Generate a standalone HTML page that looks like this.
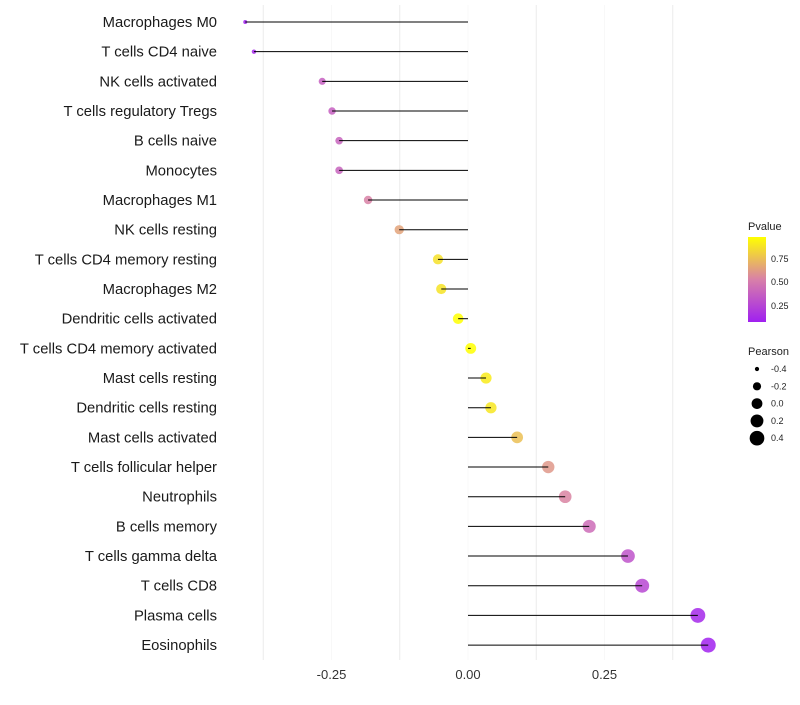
<!DOCTYPE html>
<html><head><meta charset="utf-8"><style>
body{margin:0;background:#fff;font-family:"Liberation Sans",sans-serif}
</style></head><body>
<svg id="chart" width="800" height="700" xmlns="http://www.w3.org/2000/svg">
<defs><linearGradient id="pg" x1="0" y1="1" x2="0" y2="0">
<stop offset="0" stop-color="#A020F0"/><stop offset="0.5" stop-color="#D880A8"/><stop offset="1" stop-color="#FFFF00"/></linearGradient></defs>
<g id="grid"></g>
<g id="points"></g>
<g id="marks"></g>
<g id="ylabels"></g>
<g id="xlabels"></g>
<g>
<text x="748" y="230" font-size="11" fill="#222">Pvalue</text>
<rect x="748" y="237" width="18" height="85" fill="url(#pg)"/>
<text x="771" y="262" font-size="9" fill="#222">0.75</text>
<text x="771" y="285" font-size="9" fill="#222">0.50</text>
<text x="771" y="309" font-size="9" fill="#222">0.25</text>
</g>
<g id="sizeleg">
<text x="748" y="355" font-size="11" fill="#222">Pearson</text>
</g>
</svg>
<script>
const categories=["Macrophages M0","T cells CD4 naive","NK cells activated","T cells regulatory  Tregs","B cells naive","Monocytes","Macrophages M1","NK cells resting","T cells CD4 memory resting","Macrophages M2","Dendritic cells activated","T cells CD4 memory activated","Mast cells resting","Dendritic cells resting","Mast cells activated","T cells follicular helper","Neutrophils","B cells memory","T cells gamma delta","T cells CD8","Plasma cells","Eosinophils"];
const pearson=[-0.408,-0.392,-0.267,-0.249,-0.236,-0.236,-0.183,-0.126,-0.055,-0.049,-0.018,0.005,0.033,0.042,0.090,0.147,0.178,0.222,0.293,0.319,0.421,0.440];
const pvalues=[0.06,0.10,0.36,0.36,0.38,0.38,0.52,0.64,0.86,0.87,0.97,0.98,0.90,0.88,0.74,0.60,0.53,0.42,0.30,0.25,0.10,0.07];
const xTicks=[-0.25,0,0.25];
const xTickLabels=["-0.25","0.00","0.25"];
const sizeLegendVals=[-0.4,-0.2,0.0,0.2,0.4];
const sizeLegendLabels=["-0.4","-0.2","0.0","0.2","0.4"];
const NS="http://www.w3.org/2000/svg";
const x=v=>468+v*546;
const y=i=>22+i*29.67;
const pmin=0.06,pmax=0.97;
function col(p){let t=Math.max(0,Math.min(1,(p-pmin)/(pmax-pmin)));
const a=[160,32,240],b=[216,128,168],c=[255,255,0];let s,e,u;
if(t<0.5){s=a;e=b;u=t*2}else{s=b;e=c;u=(t-0.5)*2}
return "rgb("+s.map((v,k)=>Math.round(v+(e[k]-v)*u)).join(",")+")";}
const smin=-0.42,smax=0.44,rmin=1.8,rmax=7.5;
const rad=v=>Math.sqrt(rmin*rmin+Math.max(0,(v-smin)/(smax-smin))*(rmax*rmax-rmin*rmin));
function mk(t,a,p){const e=document.createElementNS(NS,t);for(const k in a)e.setAttribute(k,a[k]);p.appendChild(e);return e;}
const grid=document.getElementById("grid"),pts=document.getElementById("points"),marks=document.getElementById("marks"),yl=document.getElementById("ylabels"),xl=document.getElementById("xlabels");
[-0.375,-0.125,0.125,0.375].forEach(v=>{const l=mk("line",{x1:x(v),x2:x(v),y1:5,y2:660,stroke:"#ebebeb","stroke-width":1},grid);

});
xTicks.forEach((v,i)=>{const l=mk("line",{x1:x(v),x2:x(v),y1:5,y2:660,stroke:"#f3f3f3","stroke-width":0.6},grid);


const t=mk("text",{x:x(v),y:679,"font-size":13,"text-anchor":"middle",fill:"#333"},xl);t.textContent=xTickLabels[i];

});
categories.forEach((c,i)=>{
const d=mk("circle",{cx:x(pearson[i]),cy:y(i),r:rad(pearson[i]),fill:col(pvalues[i]),"fill-opacity":0.85},pts);


const l=mk("line",{x1:x(0),x2:x(pearson[i]),y1:y(i),y2:y(i),stroke:"#000","stroke-width":1},marks);


const t=mk("text",{x:217,y:y(i)+5,"font-size":14.8,"text-anchor":"end",fill:"#1a1a1a","xml:space":"preserve"},yl);t.textContent=c;

});
const sl=document.getElementById("sizeleg");
sizeLegendVals.forEach((v,i)=>{const cy=369+i*17.3;
const d=mk("circle",{cx:757,cy:cy,r:rad(v),fill:"#000"},sl);


const t=mk("text",{x:771,y:cy+3,"font-size":9,fill:"#222"},sl);t.textContent=sizeLegendLabels[i];

});
</script>
</body></html>
